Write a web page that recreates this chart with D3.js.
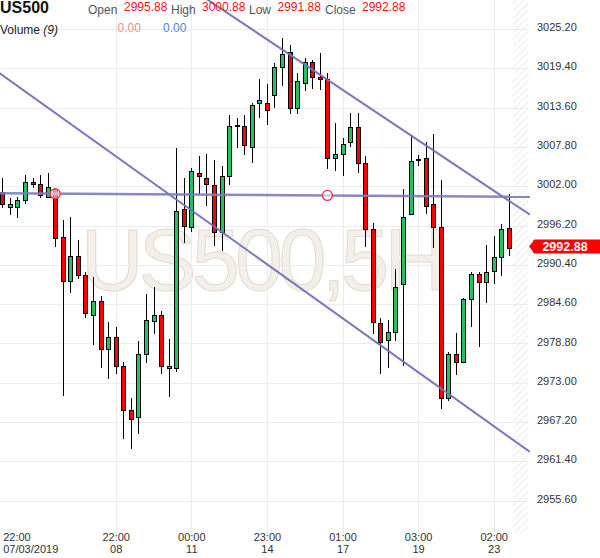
<!DOCTYPE html>
<html><head><meta charset="utf-8">
<script src="https://cdn.jsdelivr.net/npm/d3@7"></script>
<style>
body{margin:0;background:#fff}
svg{display:block;font-family:Arial,"Liberation Sans",sans-serif}
</style>
</head><body>
<svg id="chart" width="600" height="558"></svg>
<script>
// ---- data (5H candles, US500) ----
const opens  = [3001.10,2998.88,2998.88,2999.92,3002.57,3002.28,3000.36,3001.54,2994.55,2987.97,
                2991.66,2988.86,2982.96,2985.02,2977.94,2979.71,2975.43,2968.99,2967.91,2977.22,
                2982.07,2983.00,2975.14,2975.14,2998.61,2996.05,3003.90,3003.16,3002.17,2995.29,
                3003.55,3011.02,3010.92,3007.82,3014.22,3014.22,3015.40,3019.53,3021.75,3013.49,
                3017.17,3020.27,3018.06,3017.76,3006.11,3006.70,3008.47,3010.68,3005.37,2995.64,
                2981.86,2979.31,2980.45,2987.57,2997.85,3006.01,3006.11,2999.33,2996.05,2970.71,
                2977.22,2976.11,2985.32,2989.02,2987.91,2989.53,2991.51,2995.88];
const highs  = [3003.16,3000.21,3000.45,3003.65,3003.16,3003.65,3003.90,3001.69,2997.01,2997.50,
                2994.02,2989.30,2988.56,2985.85,2981.97,2981.16,2976.14,2970.71,2979.21,2986.05,
                2987.09,2983.63,2979.42,3007.59,3003.25,3004.68,3006.45,3006.70,3005.86,3004.98,
                3012.50,3012.01,3012.50,3014.31,3017.76,3017.03,3020.12,3023.81,3022.82,3018.65,
                3020.86,3020.61,3021.69,3018.65,3011.36,3009.18,3012.84,3012.75,3006.38,2996.53,
                2982.51,2982.26,2989.74,3001.54,3009.55,3006.60,3008.47,3009.70,3002.91,2977.59,
                2980.30,2985.46,2989.39,2989.39,2993.32,2994.58,2996.47,3000.88];
const lows   = [2998.88,2997.85,2997.41,2999.56,3001.84,3000.36,3000.36,2993.22,2971.16,2986.35,
                2988.50,2982.75,2978.68,2975.38,2973.66,2974.40,2964.81,2963.34,2965.64,2976.14,
                2980.30,2974.40,2971.05,2974.67,2993.81,2995.32,3000.95,2999.22,2993.32,2992.59,
                3002.32,3007.82,3006.70,3005.61,3012.16,3011.13,3013.63,3016.92,3012.75,3012.75,
                3016.19,3016.44,3016.29,3004.64,3004.34,3003.65,3008.00,3004.14,2993.18,2980.39,
                2974.40,2975.38,2979.31,2975.63,2997.85,3005.12,2998.00,2993.10,2969.33,2970.46,
                2974.30,2976.11,2981.45,2978.47,2984.96,2987.65,2988.97,2991.88];
const closes = [2999.37,2999.33,2999.92,3002.57,3002.28,3000.70,3001.84,2994.31,2987.97,2991.75,
                2988.86,2983.25,2985.02,2977.94,2979.71,2975.43,2968.99,2967.62,2977.22,2982.22,
                2983.00,2975.43,2975.43,2998.34,2996.20,3004.24,3003.43,3002.32,2995.29,3003.55,
                3010.92,3011.02,3008.07,3013.93,3014.67,3013.19,3019.53,3021.50,3013.49,3017.56,
                3020.27,3018.06,3017.76,3006.11,3006.70,3008.18,3010.68,3005.37,2995.64,2982.01,
                2978.97,2980.45,2987.17,2997.41,3005.71,3006.01,2999.12,2996.05,2970.71,2977.22,
                2976.11,2985.39,2989.02,2987.91,2989.30,2991.51,2995.64,2992.88];

const yTicks = [2955.60,2961.40,2967.20,2973.00,2978.80,2984.60,2990.40,2996.20,3002.00,3007.80,3013.60,3019.40,3025.20];
const xTickIdx  = [0,15,25,35,45,55,65];
const xTickTime = ["22:00","22:00","00:00","23:00","01:00","03:00","02:00"];
const xTickDate = ["07/03/2019","08","11","14","17","19","23"];

// trend lines: [candle index, price] end points
const lineA = [[25,3031.10],[69.8,2997.78]];
const lineB = [[-0.6,3018.85],[69.8,2962.79]];
const lineC = [[-0.6,3000.95],[69.8,3000.43]];
const anchorIdx = [7,43];
const anchorVal = [3000.89,3000.63];

const header = {symbol:"US500", open:"2995.88", high:"3000.88", low:"2991.88", close:"2992.88"};

// ---- layout ----
const svg = d3.select("#chart");
const plotRight = 513, hatchRight = 528, plotBottom = 534;

const x = d3.scaleLinear().domain([-0.5, 67.5]).range([-1.48, 512.6]);
const y = d3.scaleLinear().domain([2950.70, 3029.46]).range([534, 0]);

const defs = svg.append("defs");
const pat = defs.append("pattern").attr("id","hatch").attr("width",5).attr("height",5)
  .attr("patternUnits","userSpaceOnUse").attr("patternTransform","rotate(45)");
pat.append("line").attr("x1",0).attr("y1",0).attr("x2",0).attr("y2",5)
  .attr("stroke","#e2e2e2").attr("stroke-width",1.4);
defs.append("clipPath").attr("id","clip").append("rect")
  .attr("x",0).attr("y",0).attr("width",530).attr("height",plotBottom);

// watermark
svg.append("text").attr("x",81).attr("y",290)
  .attr("font-size",86.6).attr("textLength",366).attr("lengthAdjust","spacing")
  .attr("fill","#f4f0e9").attr("stroke","#e3dbcd").attr("stroke-width",1)
  .text("US500,5H");

// hatch strip
svg.append("rect").attr("x",plotRight).attr("y",0).attr("width",hatchRight-plotRight)
  .attr("height",plotBottom).attr("fill","url(#hatch)");

// gridlines
const grid = svg.append("g").attr("stroke","#ebebeb").attr("stroke-width",1);
grid.selectAll(".h").data(yTicks).join("line")
  .attr("x1",0).attr("x2",hatchRight)
  .attr("y1",d=>Math.round(y(d))+0.5).attr("y2",d=>Math.round(y(d))+0.5);
grid.selectAll(".v").data(xTickIdx.slice(1)).join("line")
  .attr("y1",0).attr("y2",plotBottom)
  .attr("x1",d=>Math.round(x(d))+0.5).attr("x2",d=>Math.round(x(d))+0.5);

// candles
const candles = svg.append("g");
const idx = d3.range(opens.length);
const cxOf = i => Math.round(x(i)) + 0.5;
candles.selectAll("line").data(idx).join("line")
  .attr("x1",cxOf).attr("x2",cxOf)
  .attr("y1",i=>Math.round(y(highs[i]))).attr("y2",i=>Math.round(y(lows[i]))+1)
  .attr("stroke","#000").attr("stroke-width",1);
candles.selectAll("rect").data(idx).join("rect")
  .attr("x",i=>cxOf(i)-2).attr("width",4)
  .attr("y",i=>Math.round(y(Math.max(opens[i],closes[i])))+0.5)
  .attr("height",i=>Math.max(1, Math.round(y(Math.min(opens[i],closes[i]))) - Math.round(y(Math.max(opens[i],closes[i])))))
  .attr("fill",i=>closes[i]>opens[i]?"#22c45f":(closes[i]<opens[i]?"#ff0000":"#000"))
  .attr("stroke","#000").attr("stroke-width",1);

// trend lines
const lg = svg.append("g").attr("clip-path","url(#clip)");
const lineGen = d3.line().x(d=>x(d[0])).y(d=>y(d[1]));
lg.append("path").attr("d",lineGen(lineA)).attr("fill","none").attr("stroke","#7272bb").attr("stroke-width",2).attr("stroke-opacity",0.95);
lg.append("path").attr("d",lineGen(lineB)).attr("fill","none").attr("stroke","#7272bb").attr("stroke-width",2).attr("stroke-opacity",0.95);
lg.append("path").attr("d",lineGen(lineC)).attr("fill","none").attr("stroke","#7b7bc2").attr("stroke-width",2.5).attr("stroke-opacity",0.9);
lg.selectAll("circle").data(anchorIdx).join("circle")
  .attr("cx",d=>x(d)).attr("cy",(d,i)=>y(anchorVal[i])).attr("r",5)
  .attr("fill","rgba(255,255,255,0.55)").attr("stroke","#e8343a").attr("stroke-width",1.2);

// y axis
const yAxis = svg.append("g").attr("transform","translate(537,0)")
  .call(d3.axisRight(y).tickValues(yTicks).tickSize(0).tickPadding(0).tickFormat(d3.format(".2f")));
yAxis.select(".domain").remove();
yAxis.selectAll("text").attr("dy","0.14em").attr("font-size",11).attr("fill","#333")
  .attr("font-family",'Arial,"Liberation Sans",sans-serif');

// x axis
const xAxis = svg.append("g").attr("transform","translate(0,0)")
  .call(d3.axisBottom(x).tickValues(xTickIdx).tickSize(0).tickFormat(""));
xAxis.select(".domain").remove();
xAxis.selectAll(".tick text").each(function(d,i){
  const t = d3.select(this).attr("y",null).attr("dy",null)
    .attr("font-size",11).attr("fill","#333")
    .attr("font-family",'Arial,"Liberation Sans",sans-serif')
    .attr("text-anchor", i===0 ? "start" : "middle");
  const xo = i===0 ? 0.4 : 0;
  t.append("tspan").attr("x",xo).attr("y",541).text(xTickTime[i]);
  t.append("tspan").attr("x",xo).attr("y",553).text(xTickDate[i]);
});

// last price tag
const last = closes[closes.length-1];
const ty = y(last) - 1.5;
svg.append("path")
  .attr("d",`M529,${ty} L533,${ty-5} L533,${ty-5.5} Q533,${ty-7} 535,${ty-7} L600,${ty-7} L600,${ty+7} L535,${ty+7} Q533,${ty+7} 533,${ty+5.5} L533,${ty+5} Z`)
  .attr("fill","#ff0000");
svg.append("text").attr("x",565).attr("y",ty+4.5).attr("text-anchor","middle")
  .attr("font-size",12.5).attr("font-weight","bold").attr("fill","#fff").text(d3.format(".2f")(last));

// header
const hd = svg.append("g");
hd.append("text").attr("x",0).attr("y",13).attr("font-size",16).attr("font-weight","bold").attr("fill","#111").text(header.symbol);
const labels = [["Open",88,header.open,124],["High",171,header.high,202],["Low",249,header.low,277.5],["Close",325,header.close,362]];
labels.forEach(l=>{
  hd.append("text").attr("x",l[1]).attr("y",13.5).attr("font-size",12).attr("fill","#555").text(l[0]);
  hd.append("text").attr("x",l[3]).attr("y",11).attr("font-size",12).attr("fill","#ff1010").text(l[2]);
});
const vol = hd.append("text").attr("x",0).attr("y",34).attr("font-size",12).attr("fill","#222");
vol.append("tspan").text("Volume ");
vol.append("tspan").attr("font-style","italic").text("(9)");
hd.append("text").attr("x",117.5).attr("y",32).attr("font-size",12).attr("fill","#f08c8c").text("0.00");
hd.append("text").attr("x",163).attr("y",32).attr("font-size",12).attr("fill","#4a86e0").text("0.00");
</script>
</body></html>
